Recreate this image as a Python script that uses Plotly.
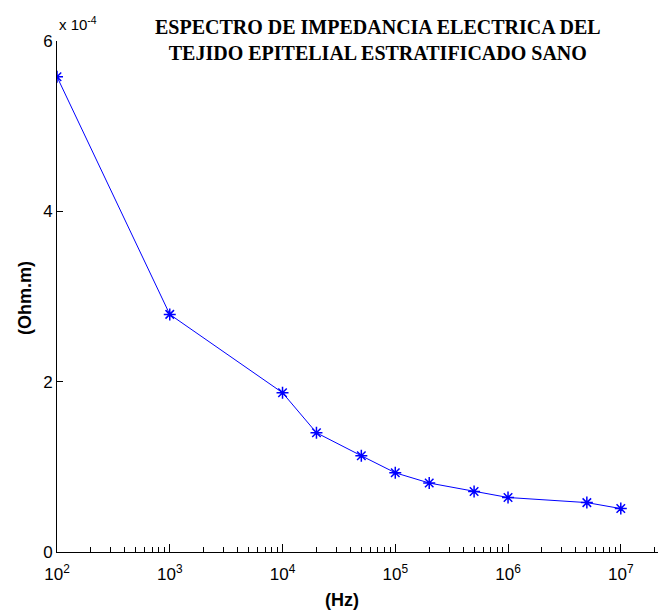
import plotly.graph_objects as go

# Frequency (Hz) and impedance (x 10^-4 Ohm.m)
freq_hz = [1e2, 1e3, 1e4, 2e4, 5e4, 1e5, 2e5, 5e5, 1e6, 5e6, 1e7]
impedance = [5.58, 2.79, 1.87, 1.40, 1.13, 0.93, 0.81, 0.71, 0.64, 0.58, 0.51]

x_major = [1e2, 1e3, 1e4, 1e5, 1e6, 1e7]
x_major_text = ["10<sup>2</sup>", "10<sup>3</sup>", "10<sup>4</sup>",
                "10<sup>5</sup>", "10<sup>6</sup>", "10<sup>7</sup>"]
y_major = [0, 2, 4, 6]

minor_vals = [m * 10 ** e for e in range(2, 8) for m in range(2, 10)]

# plot area in pixels
L, R, T, B = 57, 658, 41, 552
W, H = 659, 611
pw, ph = R - L, B - T

sans = "Liberation Sans, Arial, sans-serif"
serif = "Liberation Serif, Times New Roman, serif"

fig = go.Figure()
fig.add_trace(go.Scatter(
    x=freq_hz, y=impedance, mode="lines+markers",
    line=dict(color="#0000ff", width=1),
    marker=dict(symbol="asterisk-open", size=10, color="#0000ff",
                line=dict(color="#0000ff", width=1.5)),
    showlegend=False,
))

tick_font = dict(family=sans, size=17, color="black")

fig.update_layout(
    width=W, height=H,
    margin=dict(l=L, r=W - R, t=T, b=H - B),
    paper_bgcolor="white", plot_bgcolor="white",
    xaxis=dict(
        type="log", range=[2, 7.33],
        tickmode="array", tickvals=x_major, ticktext=x_major_text,
        ticks="inside", ticklen=8, tickcolor="black",
        showline=True, linecolor="black", linewidth=1,
        showgrid=False, zeroline=False, tickfont=tick_font,
        ticklabelstandoff=7,
        minor=dict(tickmode="array", tickvals=minor_vals, ticks="inside",
                   ticklen=5, tickcolor="black", showgrid=False),
    ),
    yaxis=dict(
        range=[0, 6],
        tickmode="array", tickvals=y_major, ticktext=[str(v) for v in y_major],
        ticks="inside", ticklen=6, tickcolor="black",
        showline=True, linecolor="black", linewidth=1,
        showgrid=False, zeroline=False, tickfont=tick_font,
    ),
    annotations=[
        dict(text="<b>ESPECTRO DE IMPEDANCIA ELECTRICA DEL<br>TEJIDO EPITELIAL ESTRATIFICADO SANO</b>",
             xref="paper", yref="paper", x=(378 - L) / pw, y=1 + (T - 14) / ph,
             xanchor="center", yanchor="top", showarrow=False,
             font=dict(family=serif, size=20, color="black")),
        dict(text="x 10<sup>-4</sup>", xref="paper", yref="paper",
             x=0, y=1 + (T - 35) / ph, xanchor="left", yanchor="bottom", showarrow=False,
             font=dict(family=sans, size=15, color="black")),
        dict(text="<b>(Hz)</b>", xref="paper", yref="paper",
             x=(342 - L) / pw, y=-(600 - B) / ph, xanchor="center", yanchor="middle",
             showarrow=False, font=dict(family=sans, size=18, color="black")),
        dict(text="<b>(Ohm.m)</b>", xref="paper", yref="paper", textangle=-90,
             x=-(L - 25) / pw, y=(B - 298) / ph, xanchor="center", yanchor="middle",
             showarrow=False, font=dict(family=sans, size=18, color="black")),
    ],
)

fig.write_html("out.html")
